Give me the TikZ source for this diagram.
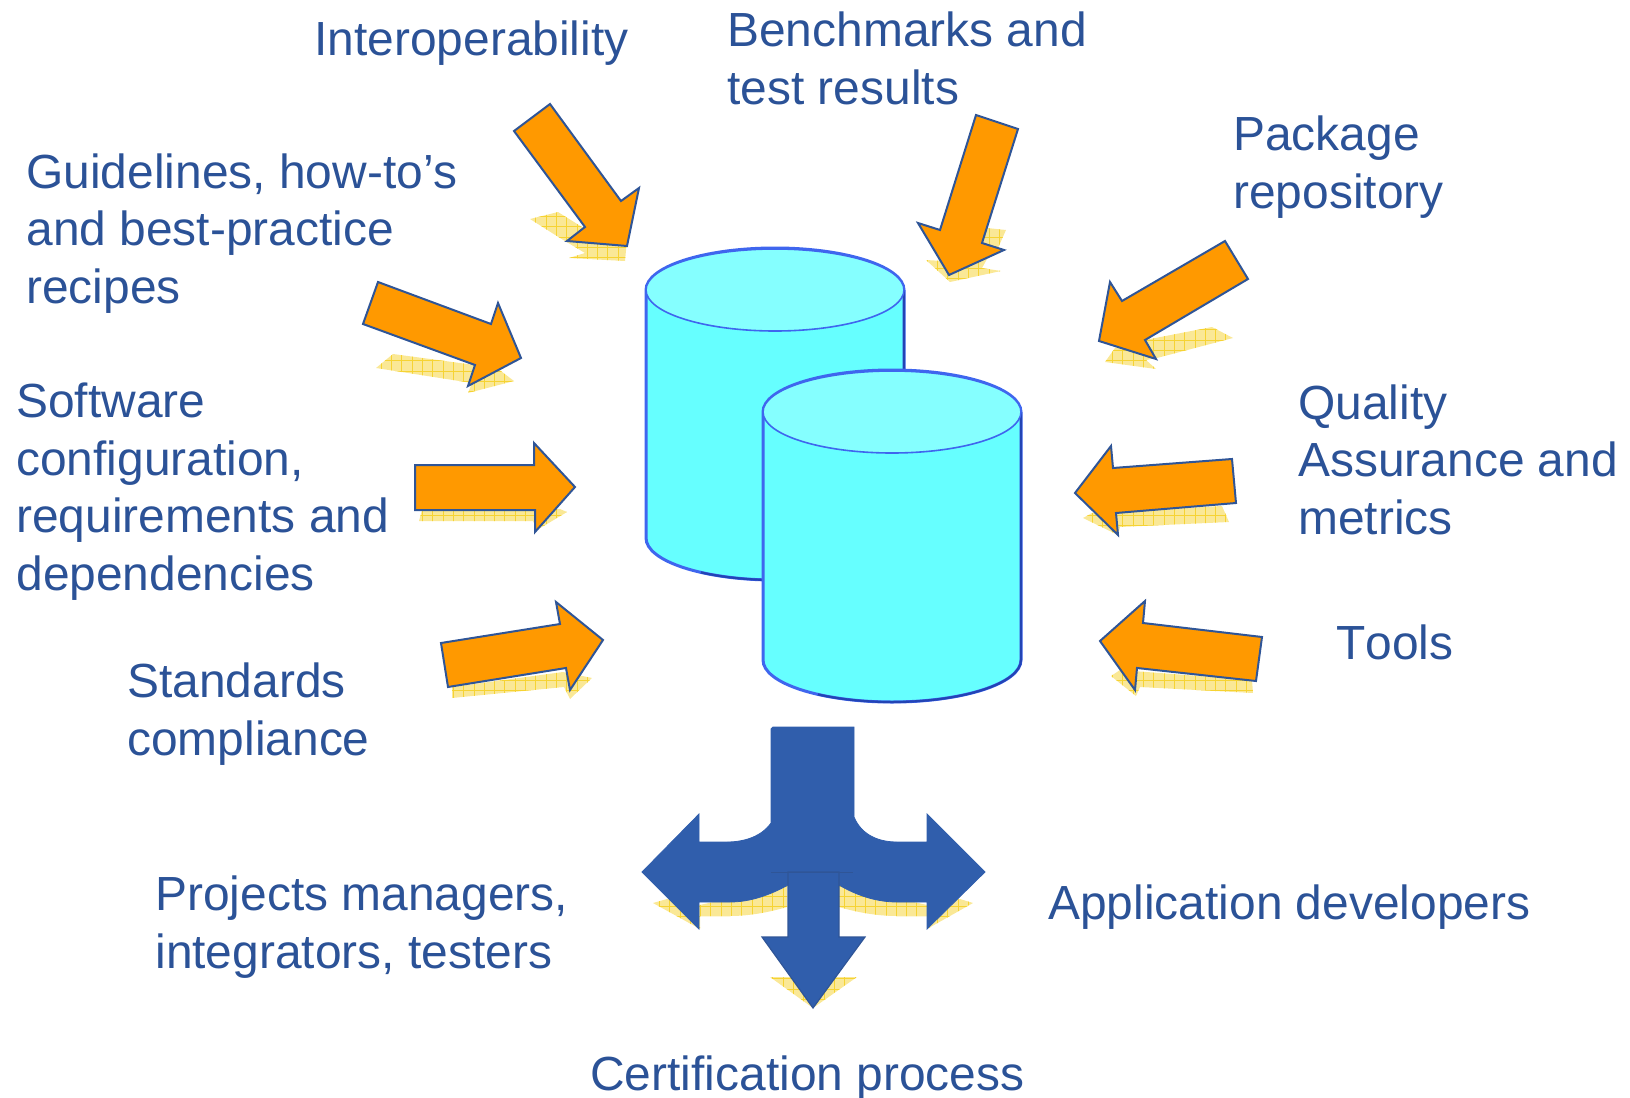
\documentclass[tikz,border=0pt]{standalone}
\usepackage{fontspec}
\setmainfont[Kerning=Off,Ligatures=NoCommon]{Liberation Sans}
\definecolor{txtblue}{HTML}{2B5297}
\definecolor{arrorange}{HTML}{FF9900}
\definecolor{arredge}{HTML}{2F5597}
\definecolor{bigblue}{HTML}{305EAC}
\definecolor{shadefill}{HTML}{FAE896}
\definecolor{shadegrid}{HTML}{F6D333}
\definecolor{cylbody}{HTML}{66FFFF}
\definecolor{cyltop}{HTML}{85FFFF}
\definecolor{cyledge}{HTML}{3F66EE}
\definecolor{cyldark}{HTML}{2344B4}
\tikzset{
  lbl/.style={anchor=base west,inner sep=0pt,align=left,text=txtblue,font=\fontsize{23.95}{28.7}\selectfont},
  orangearrow/.style={fill=arrorange,draw=arredge,line width=1pt,line join=miter},
  bluearrow/.style={fill=bigblue,draw=bigblue,line width=0.4pt,line join=miter},
  cylside/.style={fill=cylbody,draw=cyledge,line width=1.5pt},
  cylcap/.style={fill=cyltop,draw=cyledge,line width=0.8pt},
  cylshade/.style={draw=cyldark,line width=1.1pt},
  gridlines/.style={draw=shadegrid,line width=0.3pt}
}
\newcommand{\shadowshape}[1]{%
  \begin{scope}
    \clip #1 -- cycle;
    \fill[shadefill] (300,100) rectangle (1300,1050);
    \foreach \gx in {30,...,130}{\draw[gridlines] (\gx*10.3,100) -- (\gx*10.3,1050);}
    \foreach \gy in {10,...,102}{\draw[gridlines] (300,\gy*10.3) -- (1300,\gy*10.3);}
  \end{scope}}
\newcommand{\cylinder}[3]{% left x, top-ellipse centre y, side bottom y
  \path[cylside] (#1,#2) -- (#1,#3) arc[start angle=180,end angle=0,x radius=129,y radius=42] -- (#1+258,#2) arc[start angle=0,end angle=-180,x radius=129,y radius=42] -- cycle;
  \draw[cylshade] (#1+258,#2) -- (#1+258,#3) arc[start angle=0,end angle=90,x radius=129,y radius=42] arc[start angle=90,end angle=125,x radius=129,y radius=42];
  \path[cylcap] (#1+129,#2) ellipse[x radius=129,y radius=41];
}
\begin{document}
\begin{tikzpicture}[x=0.5pt,y=-0.5pt]
\useasboundingbox (0,0) rectangle (1630,1098);
% shadows
\shadowshape{(530,219) -- (558,212) -- (590,232) -- (627,240) -- (625,261) -- (569,258) -- (585,253) -- (560,238)}
\shadowshape{(376,368) -- (393,354) -- (497,368) -- (514,381) -- (468,393) -- (472,383)}
\shadowshape{(926,260) -- (960,262) -- (987,228) -- (1006,230) -- (998,248) -- (987,259) -- (982,268) -- (1001,271) -- (950,282)}
\shadowshape{(1105,362) -- (1115,348) -- (1145,340) -- (1212,327) -- (1233,338) -- (1157,358) -- (1146,360) -- (1156,369)}
\shadowshape{(1083,518) -- (1092,513) -- (1222,506) -- (1229,522) -- (1120,527) -- (1118,535)}
\shadowshape{(1111,676) -- (1120,670) -- (1252,680) -- (1253,693) -- (1140,687) -- (1136,696)}
\shadowshape{(419,521) -- (422,510) -- (560,509) -- (567,512) -- (537,530) -- (533,521)}
\shadowshape{(452,698) -- (452,687) -- (563,672) -- (592,678) -- (570,699) -- (564,687)}
\shadowshape{(653,903) -- (667,899) -- (700,905) -- (787,885) -- (787,907) .. controls (770,912) and (750,916) .. (730,916) -- (700,916) -- (700,929)}
\shadowshape{(973,903) -- (960,899) -- (927,905) -- (839,885) -- (839,907) .. controls (856,912) and (876,916) .. (897,916) -- (927,916) -- (927,929)}
\shadowshape{(770,977) -- (857,977) -- (813,1008)}
% cylinders
\cylinder{646}{290}{538}
\cylinder{763}{412}{660}
% orange arrows
\path[orangearrow] (550,104) -- (621,201) -- (639,188) -- (627,246) -- (567,241) -- (585,227) -- (514,131) -- cycle;
\path[orangearrow] (378,282) -- (491,324) -- (498,303) -- (521,358) -- (468,386) -- (475,365) -- (363,324) -- cycle;
\path[orangearrow] (976,115) -- (1018,129) -- (982,243) -- (1004,250) -- (949,275) -- (918,223) -- (940,230) -- cycle;
\path[orangearrow] (1225,241) -- (1248,279) -- (1145,340) -- (1156,359) -- (1099,341) -- (1110,282) -- (1122,301) -- cycle;
\path[orangearrow] (1232,459) -- (1236,503) -- (1116,513) -- (1118,535) -- (1075,493) -- (1111,446) -- (1113,468) -- cycle;
\path[orangearrow] (1262,637) -- (1256,681) -- (1137,668) -- (1135,690) -- (1100,641) -- (1145,601) -- (1143,623) -- cycle;
\path[orangearrow] (415,465) -- (534,465) -- (534,443) -- (575,487) -- (535,532) -- (535,510) -- (415,510) -- cycle;
\path[orangearrow] (441,643) -- (560,624) -- (556,602) -- (603,640) -- (570,690) -- (566,668) -- (448,687) -- cycle;
% blue arrows
\path[bluearrow] (771,729) -- (773,727) -- (854,727) -- (854,817)
  .. controls (862,836) and (880,842) .. (897,842) -- (927,842) -- (927,814) -- (985,872) -- (927,929) -- (927,902) -- (897,902)
  .. controls (876,902) and (856,895) .. (839,885) -- (788,885)
  .. controls (770,895) and (750,902) .. (730,902) -- (699,902) -- (699,929) -- (642,872) -- (699,814) -- (699,842) -- (727,842)
  .. controls (745,842) and (762,836) .. (771,823) -- cycle;
\path[bluearrow,draw=arredge,line width=0.6pt] (788,872) -- (839,872) -- (839,937) -- (865,937) -- (813,1008) -- (762,937) -- (788,937) -- cycle;
\draw[draw=arredge,line width=0.3pt] (771,872) -- (853,872);
% labels
\node[lbl] (interop) at (314,55) {Interoperability};
\node[lbl] (bench) at (727,104) {Benchmarks and\\test results};
\node[lbl] (guide) at (26,303) {Guidelines, how-to’s\\and best-practice\\recipes};
\node[lbl] (pack) at (1233,208) {Package\\repository};
\node[lbl] (soft) at (16,590) {Software\\configuration,\\requirements and\\dependencies};
\node[lbl] (qa) at (1298,534) {Quality\\Assurance and\\metrics};
\node[lbl] (tools) at (1336,659) {Tools};
\node[lbl] (stand) at (127,755) {Standards\\compliance};
\node[lbl] (proj) at (155,968) {Projects managers,\\integrators, testers};
\node[lbl] (app) at (1048,919) {Application developers};
\node[lbl] (cert) at (590,1090) {Certification process};
\end{tikzpicture}
\end{document}
